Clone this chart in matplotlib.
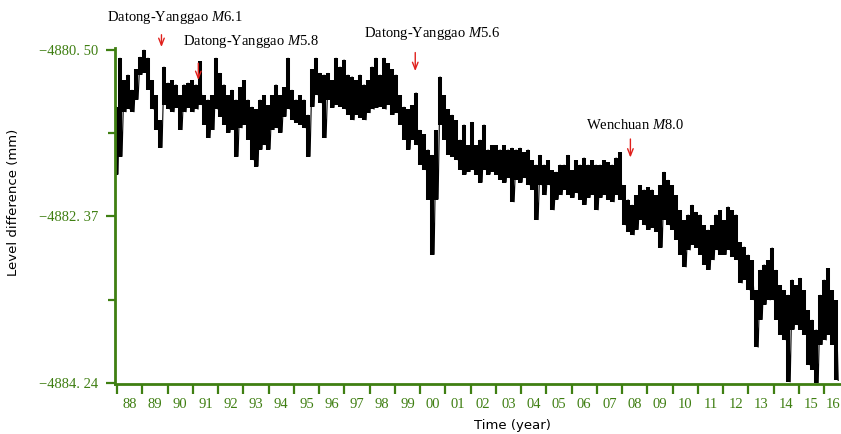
import numpy as np
import matplotlib
matplotlib.use("Agg")
import matplotlib.pyplot as plt
from matplotlib.ticker import FixedLocator, FixedFormatter, NullFormatter

# ---- data (upper / lower envelope of the record, mm) ----
high = [
    -4881.14, -4880.59, -4880.84, -4880.78, -4880.95, -4880.72, -4880.58, -4880.50, -4880.59, -4880.84,
    -4881.01, -4881.29, -4880.69, -4880.87, -4880.84, -4880.89, -4881.01, -4880.89, -4880.87, -4880.84,
    -4880.89, -4880.63, -4881.01, -4881.06, -4881.01, -4880.59, -4880.76, -4880.89, -4881.01, -4880.95,
    -4881.06, -4880.92, -4880.84, -4881.06, -4881.14, -4881.17, -4881.06, -4881.01, -4881.12, -4881.01,
    -4880.89, -4881.01, -4880.92, -4880.59, -4880.95, -4881.06, -4881.01, -4881.06, -4881.23, -4880.72,
    -4880.59, -4880.76, -4880.78, -4880.76, -4880.84, -4880.59, -4880.69, -4880.61, -4880.78, -4880.80,
    -4880.84, -4880.78, -4880.89, -4880.84, -4880.69, -4880.59, -4880.78, -4880.59, -4880.65, -4880.72,
    -4880.78, -4881.01, -4881.14, -4881.17, -4881.12, -4880.98, -4881.40, -4881.45, -4881.62, -4881.68,
    -4881.40, -4880.80, -4881.01, -4881.17, -4881.23, -4881.29, -4881.51, -4881.34, -4881.57, -4881.31,
    -4881.57, -4881.51, -4881.34, -4881.62, -4881.57, -4881.57, -4881.62, -4881.57, -4881.62, -4881.60,
    -4881.62, -4881.60, -4881.65, -4881.62, -4881.74, -4881.79, -4881.68, -4881.79, -4881.74, -4881.85,
    -4881.87, -4881.79, -4881.79, -4881.68, -4881.85, -4881.74, -4881.79, -4881.71, -4881.79, -4881.74,
    -4881.79, -4881.79, -4881.74, -4881.76, -4881.79, -4881.71, -4881.65, -4882.02, -4882.18, -4882.24,
    -4882.13, -4882.02, -4882.07, -4882.04, -4882.07, -4882.13, -4882.02, -4881.87, -4881.96, -4882.02,
    -4882.13, -4882.30, -4882.41, -4882.35, -4882.24, -4882.32, -4882.35, -4882.47, -4882.52, -4882.47,
    -4882.35, -4882.30, -4882.41, -4882.26, -4882.30, -4882.35, -4882.66, -4882.71, -4882.80, -4882.86,
    -4883.20, -4882.97, -4882.91, -4882.86, -4882.72, -4882.97, -4883.14, -4883.20, -4883.25, -4883.08,
    -4883.14, -4883.06, -4883.20, -4883.42, -4883.53, -4883.64, -4883.25, -4883.08, -4882.95, -4883.20,
    -4883.31,
]
low = [
    -4881.90, -4881.70, -4881.20, -4881.17, -4881.20, -4881.06, -4880.78, -4880.76, -4880.95, -4881.17,
    -4881.40, -4881.60, -4881.12, -4881.17, -4881.20, -4881.15, -4881.40, -4881.20, -4881.15, -4881.20,
    -4881.17, -4881.12, -4881.34, -4881.49, -4881.40, -4881.17, -4881.25, -4881.34, -4881.43, -4881.40,
    -4881.70, -4881.38, -4881.34, -4881.51, -4881.74, -4881.81, -4881.62, -4881.57, -4881.62, -4881.40,
    -4881.38, -4881.43, -4881.25, -4881.17, -4881.29, -4881.32, -4881.34, -4881.38, -4881.70, -4881.14,
    -4881.01, -4881.10, -4881.49, -4881.06, -4881.15, -4881.12, -4881.14, -4881.17, -4881.23, -4881.29,
    -4881.23, -4881.26, -4881.29, -4881.21, -4881.17, -4881.15, -4881.14, -4881.17, -4881.12, -4881.23,
    -4881.21, -4881.34, -4881.51, -4881.62, -4881.51, -4881.57, -4881.79, -4881.85, -4882.18, -4882.80,
    -4882.18, -4881.34, -4881.51, -4881.68, -4881.70, -4881.74, -4881.85, -4881.90, -4881.87, -4881.85,
    -4881.90, -4881.99, -4881.85, -4881.90, -4881.87, -4881.90, -4881.96, -4881.99, -4881.94, -4882.21,
    -4881.96, -4881.99, -4881.94, -4882.02, -4882.07, -4882.41, -4882.02, -4882.13, -4882.02, -4882.30,
    -4882.18, -4882.13, -4882.07, -4882.13, -4882.16, -4882.11, -4882.18, -4882.24, -4882.16, -4882.13,
    -4882.30, -4882.16, -4882.13, -4882.18, -4882.21, -4882.13, -4882.18, -4882.47, -4882.54, -4882.58,
    -4882.52, -4882.41, -4882.47, -4882.52, -4882.50, -4882.54, -4882.72, -4882.41, -4882.47, -4882.52,
    -4882.63, -4882.80, -4882.94, -4882.75, -4882.69, -4882.72, -4882.80, -4882.91, -4882.97, -4882.86,
    -4882.75, -4882.80, -4882.80, -4882.75, -4882.82, -4882.86, -4883.12, -4883.08, -4883.20, -4883.31,
    -4883.84, -4883.53, -4883.36, -4883.31, -4883.31, -4883.53, -4883.70, -4883.76, -4884.23, -4883.64,
    -4883.59, -4883.64, -4883.70, -4884.04, -4884.09, -4884.24, -4883.81, -4883.76, -4883.70, -4883.81,
    -4884.21,
]
first_year = 1987.96
last_year = 2016.48

ytick_values = [-4880.50, -4882.37, -4884.24]
ytick_labels = ["\u22124880. 50", "\u22124882. 37", "\u22124884. 24"]
ytick_minor = [-4881.435, -4883.305]
year_labels = ["88", "89", "90", "91", "92", "93", "94", "95", "96", "97",
               "98", "99", "00", "01", "02", "03", "04", "05", "06", "07",
               "08", "09", "10", "11", "12", "13", "14", "15", "16"]
first_label_year = 1988

event_names = ["Datong-Yanggao $\\mathit{M}$6.1", "Datong-Yanggao $\\mathit{M}$5.8",
               "Datong-Yanggao $\\mathit{M}$5.6", "Wenchuan $\\mathit{M}$8.0"]
event_years = [1989.76, 1991.22, 1999.81, 2008.33]

# ---- style ----
GREEN = "#3f7f12"
plt.rcParams["mathtext.fontset"] = "custom"
plt.rcParams["mathtext.rm"] = "Liberation Serif"
plt.rcParams["mathtext.it"] = "Liberation Serif:italic"

fig = plt.figure(figsize=(8.41, 4.34), dpi=100)
ax = fig.add_axes([115 / 841, 1 - 384 / 434, 1 - 115 / 841, (384 - 48) / 434])

assert len(high) == len(low)
years = np.linspace(first_year, last_year, len(high))
step = years[1] - years[0]
# dense band of the record (each sample's range) plus the jagged trace
ax.vlines(years, low, high, color="black", lw=2.9)
xs = np.column_stack([years, years + step / 2]).ravel()
ys = np.column_stack([high, low]).ravel()
ax.plot(xs, ys, color="black", lw=0.8, solid_joinstyle="miter")

ax.set_xlim(1987.92, 2016.67)
ax.set_ylim(-4884.25, -4880.48)

for s in ["top", "right"]:
    ax.spines[s].set_visible(False)
for s in ["left", "bottom"]:
    ax.spines[s].set_color(GREEN)
    ax.spines[s].set_linewidth(2.0)

# y ticks
ax.yaxis.set_major_locator(FixedLocator(ytick_values))
ax.yaxis.set_major_formatter(FixedFormatter(ytick_labels))
ax.yaxis.set_minor_locator(FixedLocator(ytick_minor))
ax.tick_params(axis="y", which="major", length=6.5, width=1.6, color=GREEN,
               labelcolor=GREEN, pad=5.5, labelsize=10.5)
ax.tick_params(axis="y", which="minor", length=5, width=1.6, color=GREEN)
for lab in ax.get_yticklabels():
    lab.set_family("Liberation Serif")

# x ticks: boundaries as ticks, labels in the middle of each year
n = len(year_labels)
bounds = [first_label_year + i for i in range(n + 1)]
mids = [first_label_year + i + 0.5 for i in range(n)]
mids[-1] = first_label_year + n - 1 + 0.36   # keep the last label inside the figure
ax.xaxis.set_major_locator(FixedLocator(bounds))
ax.xaxis.set_major_formatter(NullFormatter())
ax.xaxis.set_minor_locator(FixedLocator(mids))
ax.xaxis.set_minor_formatter(FixedFormatter(year_labels))
ax.tick_params(axis="x", which="major", length=7.5, width=1.6, color=GREEN)
ax.tick_params(axis="x", which="minor", length=0, labelcolor=GREEN, pad=10,
               labelsize=10.5)
for lab in ax.get_xticklabels(minor=True):
    lab.set_family("Liberation Serif")

# axis titles
fig.text(14 / 841, 1 - 202 / 434, "Level difference (mm)", rotation=90,
         ha="center", va="center", fontsize=9.5, family="DejaVu Sans")
fig.text(512 / 841, 1 - 426 / 434, "Time (year)", ha="center", va="center",
         fontsize=9.5, family="DejaVu Sans")

# event annotations
text_pos = [(1987.60, -4880.14), (1990.61, -4880.41), (1997.78, -4880.32), (2006.57, -4881.34)]
arrow_y = [(-4880.30, -4880.50), (-4880.62, -4880.87), (-4880.50, -4880.77), (-4881.47, -4881.74)]
for name, yr, (tx, ty), (y0, y1) in zip(event_names, event_years, text_pos, arrow_y):
    ax.text(tx, ty, name, ha="left", va="center", fontsize=10.5,
            family="Liberation Serif", clip_on=False)
    ax.annotate("", xy=(yr, y1), xytext=(yr, y0),
                arrowprops=dict(arrowstyle="->,head_length=0.5,head_width=0.2",
                                color="#e0201c", lw=1.0),
                annotation_clip=False)

fig.savefig("out.png", dpi=100, facecolor="white")
